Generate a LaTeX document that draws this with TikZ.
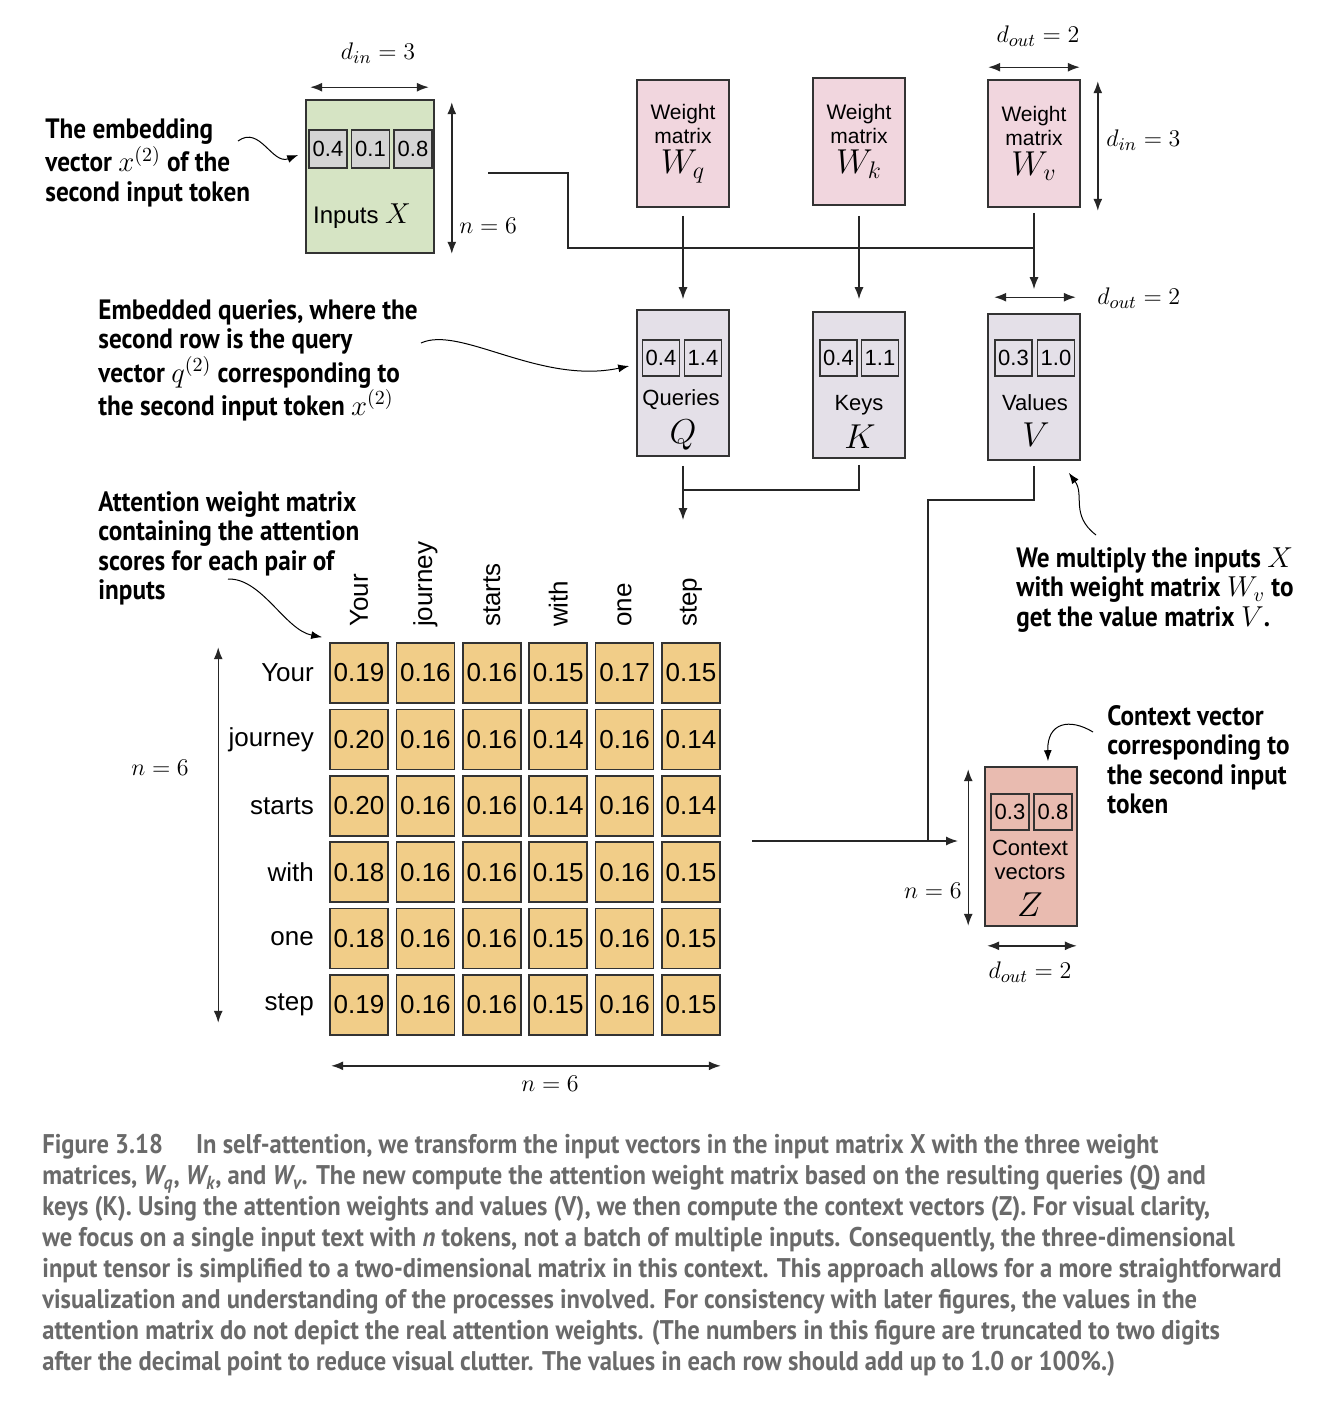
\documentclass[tikz,border=0pt]{standalone}
\usepackage{fontspec}
\setmainfont{Liberation Sans}
\newfontfamily\notefont[FakeStretch=0.9]{PT Sans}
\newfontfamily\capfont[FakeStretch=0.91]{PT Sans}
\usetikzlibrary{arrows.meta}
\usetikzlibrary{positioning}
\usetikzlibrary{calc}
\definecolor{inputgreen}{HTML}{D6E4C4}
\definecolor{weightpink}{HTML}{F1D6DE}
\definecolor{qkvgray}{HTML}{E4E0E8}
\definecolor{cellgray}{HTML}{D4D4D4}
\definecolor{attgold}{HTML}{F1CD88}
\definecolor{ctxred}{HTML}{E9BBB0}
\definecolor{captiongray}{HTML}{6A6A6A}
\tikzset{
  line/.style={draw=black!85, line width=0.7pt},
  arr/.style={line, -{Latex[length=6pt,width=4.5pt]}},
  dimarr/.style={line, {Latex[length=6pt,width=4.5pt]}-{Latex[length=6pt,width=4.5pt]}},
  curly/.style={draw=black, line width=0.5pt, -{Latex[length=5.5pt,width=4pt]}},
  mat/.style={draw=black!80, line width=0.8pt, inner sep=0pt, align=center, font=\fontsize{10.5}{12}\selectfont},
  inbox/.style={mat, fill=inputgreen, minimum width=64pt, minimum height=76.5pt},
  wbox/.style={mat, fill=weightpink, minimum width=46pt, minimum height=63.5pt},
  qkvbox/.style={mat, fill=qkvgray, minimum width=46pt, minimum height=73pt},
  ctxbox/.style={mat, fill=ctxred, minimum width=46pt, minimum height=79.5pt},
  vcell/.style={draw=black!80, line width=0.8pt, inner sep=0pt, minimum width=18.5pt, minimum height=18pt, font=\fontsize{11}{11}\selectfont},
  attcell/.style={draw=black!80, line width=0.8pt, fill=attgold, minimum width=29pt, minimum height=30pt, inner sep=0pt, font=\fontsize{13}{13}\selectfont},
  boxtxt/.style={inner sep=0pt, align=center, font=\fontsize{11}{12}\selectfont},
  sym/.style={inner sep=0pt, font=\fontsize{18}{18}\selectfont},
  tok/.style={inner sep=0pt, font=\fontsize{13}{13}\selectfont},
  dimlab/.style={inner sep=0pt, font=\fontsize{13}{13}\selectfont},
  note/.style={inner sep=0pt, align=left, anchor=north west, font=\notefont\bfseries\fontsize{14}{14.75}\selectfont},
}

\begin{document}
\begin{tikzpicture}[x=0.5pt,y=-0.5pt]
\fill[white] (0,0) rectangle (1340,1414);

% inputs
\node[inbox] (inp) at (370,176.5) {};
\foreach \v [count=\i from 0] in {0.4,0.1,0.8}
  \node[vcell, fill=cellgray, minimum width=19pt, minimum height=19pt] (inp-\i) at (328+42.5*\i,149) {\v};
\node[boxtxt, font=\fontsize{12}{12}\selectfont] (inplab) at (362,216) {Inputs {\fontsize{14}{14}\selectfont$X$}};

% weight matrices
\foreach \n/\x/\y/\s in {wq/683/143.5/q, wk/859/141.5/k, wv/1034/143.5/v}
  \node[wbox] (\n) at (\x,\y) {Weight\\matrix\\[3pt]{\fontsize{17}{17}\selectfont$W_\s$}};

% queries, keys, values
\node[qkvbox] (qbox) at (683,383) {};
\node[qkvbox] (kbox) at (859,385) {};
\node[qkvbox] (vbox) at (1034,387) {};
\node[vcell] (q-0) at (661,358) {0.4};
\node[vcell] (q-1) at (703,358) {1.4};
\node[vcell] (k-0) at (838.5,358) {0.4};
\node[vcell] (k-1) at (880,358) {1.1};
\node[vcell] (v-0) at (1013.5,358) {0.3};
\node[vcell] (v-1) at (1056,358) {1.0};
\node[boxtxt] (qlab) at (681,400) {Queries};
\node[sym] (qsym) at (683,435) {$Q$};
\node[boxtxt] (klab) at (859,405) {Keys};
\node[sym] (ksym) at (860,437) {$K$};
\node[boxtxt] (vlab) at (1035,403) {Values};
\node[sym] (vsym) at (1036,435) {$V$};

% context vectors
\node[ctxbox] (ctx) at (1031,846.5) {};
\node[vcell, minimum width=19pt] (z-0) at (1010,812) {0.3};
\node[vcell, minimum width=19pt] (z-1) at (1053,812) {0.8};
\node[boxtxt] (zlab) at (1030,860) {Context\\vectors};
\node[sym] (zsym) at (1030,905) {$Z$};

% attention weights
\foreach \r/\vals in {0/{0.19,0.16,0.16,0.15,0.17,0.15},
                      1/{0.20,0.16,0.16,0.14,0.16,0.14},
                      2/{0.20,0.16,0.16,0.14,0.16,0.14},
                      3/{0.18,0.16,0.16,0.15,0.16,0.15},
                      4/{0.18,0.16,0.16,0.15,0.16,0.15},
                      5/{0.19,0.16,0.16,0.15,0.16,0.15}}
  \foreach \v [count=\c from 0] in \vals
    \node[attcell] (att-\r-\c) at (359+66.4*\c,673+66.4*\r) {\v};
\foreach \t [count=\i from 0] in {Your,journey,starts,with,one,step} {
  \node[tok, anchor=east] (rowlab-\i) at ($(att-\i-0.west)+(-7.5pt,0)$) {\t};
  \node[tok, anchor=west, rotate=90] (collab-\i) at ($(att-0-\i.north)+(0,7.5pt)$) {\t};
}

% connectors
\coordinate (xout) at (488,173);
\coordinate (xbus) at (1034,248);
\draw[line] (xout) -- (568,173) |- (xbus);
\draw[arr] ([yshift=-4pt]wq.south) -- ([yshift=5pt]qbox.north);
\draw[arr] ([yshift=-5pt]wk.south) -- ([yshift=6pt]kbox.north);
\draw[arr] ([yshift=-2.5pt]wv.south) -- ([yshift=12pt]vbox.north);
\coordinate (attin) at (683,520);
\coordinate (qkjoin) at (683,490);
\draw[arr] ([yshift=-4.5pt]qbox.south) -- (attin);
\draw[line] ([yshift=-3pt]kbox.south) |- (qkjoin);
\coordinate (vbend) at (928,500);
\coordinate (attout) at (752,841);
\coordinate (ctxin) at (958,841);
\draw[line] ([yshift=-2.5pt]vbox.south) |- (vbend) -- (vbend |- attout);
\draw[arr] (attout) -- (ctxin);

% dimensions
\draw[dimarr] ([xshift=2.5pt,yshift=6pt]inp.north west) -- ([xshift=-3pt,yshift=6pt]inp.north east);
\node[dimlab] (dinx) at (378,53) {$d_{in} = 3$};
\draw[dimarr] ([xshift=8.5pt,yshift=-1.5pt]inp.north east) -- ([xshift=8.5pt]inp.south east);
\node[dimlab, anchor=west] (nx) at (459,226) {$n = 6$};
\draw[dimarr] ([xshift=0.5pt,yshift=6pt]wv.north west) -- ([xshift=-0.5pt,yshift=6pt]wv.north east);
\node[dimlab] (doutw) at (1038,36) {$d_{out} = 2$};
\draw[dimarr] ([xshift=8.5pt,yshift=-1pt]wv.north east) -- ([xshift=8.5pt,yshift=-1.5pt]wv.south east);
\node[dimlab, anchor=west] (dinw) at (1106,140) {$d_{in} = 3$};
\draw[dimarr] ([xshift=3.5pt,yshift=8pt]vbox.north west) -- ([xshift=-2.5pt,yshift=8pt]vbox.north east);
\node[dimlab, anchor=west] (doutv) at (1097,298) {$d_{out} = 2$};
\draw[dimarr] ([xshift=-55.5pt,yshift=-2.5pt]att-0-0.north west) -- ([xshift=-55.5pt,yshift=6.5pt]att-5-0.south west);
\node[dimlab] (natt) at (160,768) {$n = 6$};
\draw[dimarr] ([xshift=1pt,yshift=-15pt]att-5-0.south west) -- ([yshift=-15pt]att-5-5.south east);
\node[dimlab] (nattb) at (550,1084) {$n = 6$};
\draw[dimarr] ([xshift=-8pt,yshift=-1.5pt]ctx.north west) -- ([xshift=-8pt,yshift=0.5pt]ctx.south west);
\node[dimlab, anchor=east] (nz) at (962,891) {$n = 6$};
\draw[dimarr] ([xshift=1.5pt,yshift=-9.5pt]ctx.south west) -- ([xshift=-0.5pt,yshift=-9.5pt]ctx.south east);
\node[dimlab] (doutz) at (1030,972) {$d_{out} = 2$};

% notes
\node[note] (embnote) at (45,118) {The embedding\\vector $x^{(2)}$ of the\\second input token};
\coordinate (embfrom) at (238,141);
\draw[curly] (embfrom) .. controls (260,125) and (272,165) .. ($(inp.west |- inp-0)+(-3.5pt,-3pt)$);
\node[note] (qnote) at (98,299) {Embedded queries, where the\\second row is the query\\vector $q^{(2)}$ corresponding to\\the second input token $x^{(2)}$};
\coordinate (qfrom) at (421,343);
\draw[curly] (qfrom) .. controls (460,325) and (540,385) .. ($(qbox.west |- q-0)+(-3.5pt,-4pt)$);
\node[note] (attnote) at (98,491) {Attention weight matrix\\containing the attention\\scores for each pair of\\inputs};
\coordinate (attfrom) at (228,579);
\draw[curly] (attfrom) .. controls (262,578) and (285,630) .. ($(att-0-0.north west)+(-3.5pt,2.5pt)$);
\node[note] (vnote) at (1016,547) {We multiply the inputs $X$\\with weight matrix $W_v$ to\\get the value matrix $V$.};
\coordinate (vfrom) at (1096,535);
\draw[curly] (vfrom) .. controls (1070,515) and (1085,495) .. ($(vbox.south east)+(-6pt,-6pt)$);
\node[note] (ctxnote) at (1107,705) {Context vector\\corresponding to\\the second input\\token};
\coordinate (ctxfrom) at (1093,732);
\draw[curly] (ctxfrom) .. controls (1070,718) and (1047,722) .. ($(ctx.north)+(8.5pt,2.5pt)$);

% caption
\node[inner sep=0pt, anchor=north west, align=left, text=captiongray,
      font=\capfont\bfseries\fontsize{13.5}{15.5}\selectfont] (caption) at (42,1134)
  {Figure 3.18\quad\ In self-attention, we transform the input vectors in the input matrix X with the three weight\\
   matrices, {\itshape W\textsubscript{q}}, {\itshape W\textsubscript{k}}, and {\itshape W\textsubscript{v}}. The new compute the attention weight matrix based on the resulting queries (Q) and\\
   keys (K). Using the attention weights and values (V), we then compute the context vectors (Z). For visual clarity,\\
   we focus on a single input text with {\itshape n} tokens, not a batch of multiple inputs. Consequently, the three-dimensional\\
   input tensor is simplified to a two-dimensional matrix in this context. This approach allows for a more straightforward\\
   visualization and understanding of the processes involved. For consistency with later figures, the values in the\\
   attention matrix do not depict the real attention weights. (The numbers in this figure are truncated to two digits\\
   after the decimal point to reduce visual clutter. The values in each row should add up to 1.0 or 100\%.)};
\end{tikzpicture}
\end{document}
